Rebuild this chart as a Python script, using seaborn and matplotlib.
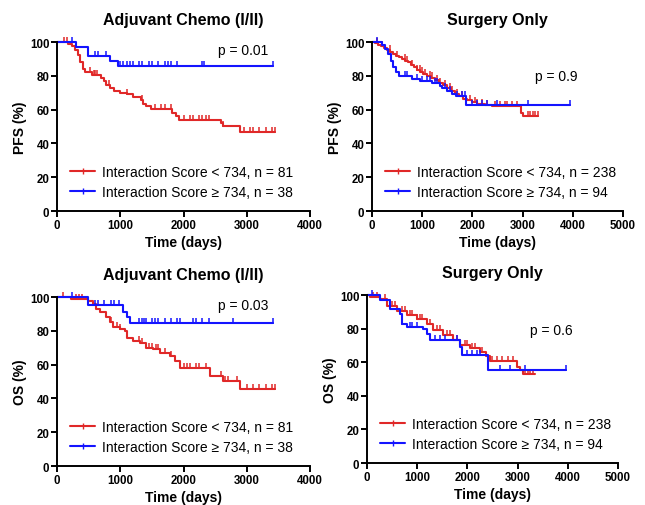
import numpy as np
import pandas as pd
import matplotlib
matplotlib.use("Agg")
import matplotlib.pyplot as plt
from matplotlib.lines import Line2D
import seaborn as sns

# ---------------- data ----------------
# PFS, Adjuvant chemo
pfs_chemo_low_t = [0, 175, 230, 280, 330, 370, 410, 450, 560, 700, 740, 780, 830, 900, 1000, 1100,
                   1200, 1330, 1360, 1400, 1480, 1820, 1880, 1930, 2590, 2620, 2900]
pfs_chemo_low_v = [100, 98.8, 97.5, 95, 92.5, 88, 84, 82, 80.5, 79, 77, 74.5, 72.5, 71, 70, 69,
                   67.5, 65.5, 63.5, 62, 60.5, 58, 56, 54, 52, 50.5, 46.5]
pfs_chemo_low_end = 3450
pfs_chemo_low_c = [115, 150, 520, 580, 600, 640, 820, 1100, 1350, 1550, 1650, 1700, 1800, 2000, 2100,
                   2150, 2250, 2300, 2350, 2400, 2620, 2950, 3050, 3100, 3200, 3300, 3400, 3450]
pfs_chemo_high_t = [0, 300, 490, 830, 960]
pfs_chemo_high_v = [100, 97, 92, 89, 86]
pfs_chemo_high_end = 3420
pfs_chemo_high_c = [230, 600, 650, 780, 1000, 1050, 1100, 1150, 1200, 1300, 1350, 1450, 1500, 1600,
                    1700, 1750, 1800, 1900, 2300, 2330, 3420]

# PFS, Surgery only
pfs_surg_low_t = [0, 60, 120, 180, 240, 300, 360, 420, 480, 540, 600, 660, 720, 780, 840, 900, 960,
                  1020, 1100, 1180, 1260, 1340, 1420, 1500, 1580, 1660, 1740, 1820, 1900, 2000, 2100,
                  2250, 2400, 2960, 3010]
pfs_surg_low_v = [100, 99.5, 98.5, 97.5, 96.5, 95.5, 94, 93, 92, 91, 90, 89, 88, 86.5, 85, 83.5, 82,
                  81, 80, 79, 77.5, 76, 74.5, 72.5, 71, 69.5, 68, 66.5, 65.5, 64.5, 63.5, 62.5, 62,
                  58, 56]
pfs_surg_low_end = 3310
pfs_surg_low_c = [100, 200, 350, 500, 650, 700, 800, 900, 950, 1000, 1050, 1150, 1200, 1300, 1350,
                  1450, 1550, 1600, 1700, 1800, 1950, 2050, 2100, 2200, 2300, 2450, 2550, 2650, 2700,
                  2800, 2900, 3100, 3150, 3200, 3250, 3300]
pfs_surg_high_t = [0, 200, 260, 320, 380, 420, 470, 540, 800, 950, 1200, 1350, 1400, 1500, 1600,
                   1680, 1880]
pfs_surg_high_v = [100, 98, 96, 93, 89, 85, 82, 80, 78, 77, 76, 74, 73, 71, 69, 68, 62.5]
pfs_surg_high_end = 3940
pfs_surg_high_c = [100, 650, 700, 900, 1000, 1100, 1150, 1250, 1300, 1450, 1550, 1700, 1800, 1850,
                   2000, 2100, 2200, 2300, 2500, 3100, 3940]

# OS, Adjuvant chemo
os_chemo_low_t = [0, 227, 490, 570, 620, 675, 780, 830, 890, 990, 1070, 1100, 1200, 1310, 1410,
                  1520, 1625, 1780, 1860, 1940, 2420, 2630, 2890]
os_chemo_low_v = [100, 99, 97.5, 96, 93, 91, 88, 85, 82, 81, 80, 76, 74, 73, 70, 69, 67, 65, 62,
                  58, 53, 50.5, 45.5]
os_chemo_low_end = 3445
os_chemo_low_c = [100, 300, 350, 400, 850, 950, 1000, 1300, 1350, 1450, 1500, 1560, 1600, 1700, 1800,
                  2000, 2050, 2100, 2200, 2250, 2350, 2600, 2650, 2700, 2850, 3000, 3100, 3200,
                  3300, 3400, 3445]
os_chemo_high_t = [0, 490, 1045, 1100, 1150]
os_chemo_high_v = [100, 95.4, 91, 88, 84.8]
os_chemo_high_end = 3420
os_chemo_high_c = [230, 600, 650, 750, 850, 900, 980, 1300, 1350, 1380, 1400, 1500, 1550, 1600,
                   1700, 1800, 1900, 1950, 2150, 2200, 2300, 2400, 2780, 3420]

# OS, Surgery only
os_surg_low_t = [0, 66, 265, 400, 600, 800, 990, 1190, 1320, 1520, 1720, 1850, 2050, 2250, 2380,
                 2450, 2980, 3050, 3110]
os_surg_low_v = [100, 99, 97.6, 93.7, 90.7, 88, 86, 83, 79, 76, 73, 70, 68.3, 66, 63.6, 61, 57,
                 55.6, 53]
os_surg_low_end = 3340
os_surg_low_c = [120, 200, 350, 500, 550, 700, 750, 850, 900, 1000, 1050, 1100, 1250, 1400, 1450,
                 1600, 1650, 1800, 1950, 2000, 2100, 2150, 2300, 2500, 2600, 2700, 2800, 2900,
                 3150, 3200, 3250, 3300]
os_surg_high_t = [0, 265, 465, 660, 695, 795, 1125, 1190, 1260, 1850, 1890, 2420]
os_surg_high_v = [100, 97, 91.7, 88.7, 82.8, 80.8, 79.8, 77, 73, 69, 64.4, 55.6]
os_surg_high_end = 3970
os_surg_high_c = [100, 700, 850, 900, 1000, 1350, 1450, 1550, 1800, 2000, 2100, 2200, 2250, 2650,
                  2850, 3150, 3970]

titles = ["Adjuvant Chemo (I/II)", "Surgery Only", "Adjuvant Chemo (I/II)", "Surgery Only"]
ylabels = ["PFS (%)", "PFS (%)", "OS (%)", "OS (%)"]
pvalues = ["p = 0.01", "p = 0.9", "p = 0.03", "p = 0.6"]
xmax = [4000, 5000, 4000, 5000]
legend_low = ["Interaction Score < 734, n = 81", "Interaction Score < 734, n = 238",
              "Interaction Score < 734, n = 81", "Interaction Score < 734, n = 238"]
legend_high = ["Interaction Score \u2265 734, n = 38", "Interaction Score \u2265 734, n = 94",
               "Interaction Score \u2265 734, n = 38", "Interaction Score \u2265 734, n = 94"]
p_pos = [(2545, 95), (3250, 80), (2545, 95), (3250, 79)]

curves = [
    [(pfs_chemo_low_t, pfs_chemo_low_v, pfs_chemo_low_end, pfs_chemo_low_c),
     (pfs_chemo_high_t, pfs_chemo_high_v, pfs_chemo_high_end, pfs_chemo_high_c)],
    [(pfs_surg_low_t, pfs_surg_low_v, pfs_surg_low_end, pfs_surg_low_c),
     (pfs_surg_high_t, pfs_surg_high_v, pfs_surg_high_end, pfs_surg_high_c)],
    [(os_chemo_low_t, os_chemo_low_v, os_chemo_low_end, os_chemo_low_c),
     (os_chemo_high_t, os_chemo_high_v, os_chemo_high_end, os_chemo_high_c)],
    [(os_surg_low_t, os_surg_low_v, os_surg_low_end, os_surg_low_c),
     (os_surg_high_t, os_surg_high_v, os_surg_high_end, os_surg_high_c)],
]

# ---------------- style ----------------
sns.set_style("ticks")
plt.rcParams['font.family'] = ['Liberation Sans', 'DejaVu Sans']
plt.rcParams['text.color'] = 'black'
plt.rcParams['axes.labelcolor'] = 'black'
plt.rcParams['xtick.color'] = 'black'
plt.rcParams['ytick.color'] = 'black'
RED = "#e02828"
BLUE = "#1414ff"
colors = [RED, BLUE]

fig = plt.figure(figsize=(6.45, 5.06), dpi=100)
positions = [
    [0.0884, 0.581, 0.3922, 0.334],
    [0.5767, 0.581, 0.389, 0.334],
    [0.0884, 0.077, 0.3922, 0.334],
    [0.569, 0.083, 0.389, 0.332],
]

for i in range(4):
    ax = fig.add_axes(positions[i])
    for (t, v, end, c), col in zip(curves[i], colors):
        tt = list(t) + [end]
        vv = list(v) + [v[-1]]
        df = pd.DataFrame({"t": tt, "v": vv})
        sns.lineplot(data=df, x="t", y="v", drawstyle="steps-post", color=col, lw=1.5,
                     estimator=None, sort=False, ax=ax, clip_on=False)
        ta = np.asarray(t)
        va = np.asarray(v)
        cy = va[np.searchsorted(ta, np.asarray(c), side="right") - 1]
        ax.plot(c, cy + 1.2, linestyle="none", marker="|", markersize=4.5,
                markeredgewidth=1.1, color=col, clip_on=False)
    ax.set_xlim(0, xmax[i])
    ax.set_ylim(0, 100)
    ax.set_xticks(np.arange(0, xmax[i] + 1, 1000))
    ax.set_yticks(np.arange(0, 101, 20))
    for s in ["top", "right"]:
        ax.spines[s].set_visible(False)
    for s in ["left", "bottom"]:
        ax.spines[s].set_linewidth(1.4)
        ax.spines[s].set_color("black")
    ax.tick_params(axis="both", direction="out", length=4, width=1.4, color="black",
                   labelcolor="black", labelsize=8.3, pad=1.5)
    for lab in ax.get_xticklabels() + ax.get_yticklabels():
        lab.set_fontweight("bold")
    ax.set_xlabel("Time (days)", fontsize=10, fontweight="bold", labelpad=3, color="black")
    ax.set_ylabel(ylabels[i], fontsize=10, fontweight="bold", labelpad=2, color="black")
    ax.set_title(titles[i], fontsize=11.5, fontweight="bold", pad=13, color="black")
    ax.text(p_pos[i][0], p_pos[i][1], pvalues[i], fontsize=10, va="center", ha="left",
            color="black")
    handles = [Line2D([0], [0], color=RED, lw=1.5, marker="|", markersize=4.5),
               Line2D([0], [0], color=BLUE, lw=1.5, marker="|", markersize=4.5)]
    leg = ax.legend(handles, [legend_low[i], legend_high[i]], loc="lower left",
                    bbox_to_anchor=(0.02, 0.02), frameon=False, fontsize=10,
                    handlelength=1.8, handletextpad=0.45, labelspacing=0.45,
                    borderaxespad=0.2)
    for txt in leg.get_texts():
        txt.set_color("black")

fig.savefig("out.png", dpi=100)
